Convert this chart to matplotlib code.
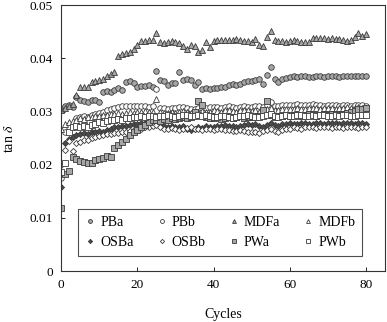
import matplotlib
matplotlib.use('Agg')
import matplotlib.pyplot as plt

plt.rcParams['font.family'] = ['Liberation Serif', 'DejaVu Serif']
plt.rcParams['mathtext.fontset'] = 'stix'

cycles = list(range(81))

PBa = [0.0305, 0.0310, 0.0313, 0.0308, 0.0328, 0.0322, 0.0320, 0.0317, 0.0321, 0.0321,
       0.0318, 0.0336, 0.0338, 0.0337, 0.0341, 0.0344, 0.0340, 0.0356, 0.0357, 0.0354,
       0.0347, 0.0348, 0.0348, 0.0349, 0.0347, 0.0376, 0.0360, 0.0357, 0.0350, 0.0353,
       0.0354, 0.0375, 0.0360, 0.0361, 0.0359, 0.0349, 0.0356, 0.0343, 0.0344, 0.0343,
       0.0345, 0.0344, 0.0346, 0.0347, 0.0350, 0.0351, 0.0349, 0.0352, 0.0355, 0.0357,
       0.0358, 0.0360, 0.0361, 0.0352, 0.0368, 0.0383, 0.0361, 0.0356, 0.0361, 0.0363,
       0.0364, 0.0366, 0.0365, 0.0366, 0.0367, 0.0365, 0.0364, 0.0366, 0.0366, 0.0365,
       0.0366, 0.0367, 0.0366, 0.0365, 0.0366, 0.0366, 0.0367, 0.0366, 0.0366, 0.0367, 0.0366]

PBb = [0.0175, 0.0262, 0.0270, 0.0275, 0.0288, 0.0290, 0.0292, 0.0290, 0.0293, 0.0295,
       0.0298, 0.0300, 0.0302, 0.0305, 0.0307, 0.0308, 0.0310, 0.0310, 0.0311, 0.0311,
       0.0310, 0.0311, 0.0310, 0.0309, 0.0311, 0.0342, 0.0307, 0.0306, 0.0305, 0.0307,
       0.0306, 0.0308, 0.0309, 0.0307, 0.0305, 0.0304, 0.0306, 0.0307, 0.0306, 0.0308,
       0.0309, 0.0308, 0.0307, 0.0309, 0.0310, 0.0308, 0.0307, 0.0309, 0.0310, 0.0309,
       0.0308, 0.0310, 0.0311, 0.0309, 0.0312, 0.0318, 0.0310, 0.0311, 0.0312, 0.0313,
       0.0312, 0.0313, 0.0314, 0.0313, 0.0312, 0.0313, 0.0314, 0.0313, 0.0312, 0.0311,
       0.0312, 0.0313, 0.0312, 0.0311, 0.0313, 0.0312, 0.0311, 0.0312, 0.0313, 0.0312, 0.0311]

MDFa = [0.0302, 0.0306, 0.0310, 0.0315, 0.0332, 0.0346, 0.0347, 0.0347, 0.0355, 0.0358,
        0.0360, 0.0362, 0.0367, 0.0370, 0.0374, 0.0404, 0.0408, 0.0410, 0.0412, 0.0417,
        0.0425, 0.0432, 0.0433, 0.0435, 0.0435, 0.0448, 0.0431, 0.0429, 0.0430, 0.0432,
        0.0430, 0.0429, 0.0424, 0.0418, 0.0425, 0.0423, 0.0411, 0.0416, 0.0430, 0.0421,
        0.0433, 0.0434, 0.0435, 0.0435, 0.0434, 0.0435, 0.0436, 0.0435, 0.0433, 0.0432,
        0.0430, 0.0436, 0.0425, 0.0424, 0.0441, 0.0451, 0.0434, 0.0433, 0.0432, 0.0431,
        0.0432, 0.0435, 0.0433, 0.0431, 0.0430, 0.0431, 0.0439, 0.0438, 0.0438, 0.0438,
        0.0437, 0.0438, 0.0437, 0.0436, 0.0435, 0.0433, 0.0434, 0.0440, 0.0448, 0.0442, 0.0446]

MDFb = [0.0268, 0.0276, 0.0280, 0.0283, 0.0285, 0.0287, 0.0286, 0.0289, 0.0290, 0.0291,
        0.0292, 0.0294, 0.0293, 0.0295, 0.0296, 0.0297, 0.0296, 0.0298, 0.0299, 0.0298,
        0.0300, 0.0299, 0.0301, 0.0300, 0.0299, 0.0323, 0.0300, 0.0298, 0.0297, 0.0299,
        0.0298, 0.0300, 0.0301, 0.0299, 0.0297, 0.0298, 0.0300, 0.0301, 0.0299, 0.0300,
        0.0302, 0.0301, 0.0300, 0.0302, 0.0303, 0.0301, 0.0300, 0.0302, 0.0303, 0.0302,
        0.0301, 0.0303, 0.0300, 0.0299, 0.0304, 0.0306, 0.0303, 0.0302, 0.0304, 0.0305,
        0.0304, 0.0305, 0.0306, 0.0305, 0.0304, 0.0306, 0.0307, 0.0306, 0.0305, 0.0306,
        0.0307, 0.0306, 0.0305, 0.0306, 0.0307, 0.0308, 0.0306, 0.0307, 0.0308, 0.0307, 0.0306]

OSBa = [0.0158, 0.0240, 0.0248, 0.0252, 0.0255, 0.0258, 0.0260, 0.0258, 0.0261, 0.0262,
        0.0263, 0.0262, 0.0265, 0.0267, 0.0270, 0.0271, 0.0272, 0.0273, 0.0274, 0.0276,
        0.0277, 0.0278, 0.0279, 0.0280, 0.0282, 0.0281, 0.0276, 0.0273, 0.0270, 0.0272,
        0.0270, 0.0271, 0.0273, 0.0268, 0.0265, 0.0268, 0.0271, 0.0269, 0.0272, 0.0270,
        0.0271, 0.0273, 0.0272, 0.0274, 0.0273, 0.0272, 0.0271, 0.0273, 0.0274, 0.0276,
        0.0275, 0.0277, 0.0273, 0.0271, 0.0274, 0.0278, 0.0275, 0.0273, 0.0276, 0.0277,
        0.0278, 0.0276, 0.0277, 0.0279, 0.0278, 0.0276, 0.0277, 0.0278, 0.0279, 0.0277,
        0.0278, 0.0279, 0.0278, 0.0277, 0.0278, 0.0279, 0.0278, 0.0277, 0.0279, 0.0278, 0.0277]

OSBb = [0.0200, 0.0228, 0.0245, 0.0225, 0.0240, 0.0243, 0.0246, 0.0247, 0.0250, 0.0252,
        0.0254, 0.0255, 0.0257, 0.0258, 0.0259, 0.0260, 0.0261, 0.0262, 0.0263, 0.0265,
        0.0266, 0.0268, 0.0270, 0.0271, 0.0272, 0.0274, 0.0270, 0.0268, 0.0267, 0.0269,
        0.0268, 0.0266, 0.0267, 0.0269, 0.0270, 0.0268, 0.0267, 0.0266, 0.0268, 0.0267,
        0.0266, 0.0268, 0.0267, 0.0265, 0.0266, 0.0264, 0.0263, 0.0265, 0.0264, 0.0262,
        0.0261, 0.0262, 0.0260, 0.0263, 0.0266, 0.0268, 0.0264, 0.0262, 0.0265, 0.0267,
        0.0268, 0.0270, 0.0269, 0.0268, 0.0270, 0.0271, 0.0270, 0.0269, 0.0270, 0.0271,
        0.0270, 0.0269, 0.0271, 0.0270, 0.0269, 0.0270, 0.0271, 0.0270, 0.0269, 0.0270, 0.0271]

PWa = [0.0119, 0.0183, 0.0189, 0.0215, 0.0210, 0.0207, 0.0205, 0.0203, 0.0204, 0.0208,
       0.0210, 0.0212, 0.0216, 0.0214, 0.0232, 0.0238, 0.0243, 0.0248, 0.0255, 0.0262,
       0.0266, 0.0270, 0.0275, 0.0280, 0.0284, 0.0285, 0.0283, 0.0286, 0.0284, 0.0288,
       0.0286, 0.0287, 0.0289, 0.0287, 0.0290, 0.0300, 0.0319, 0.0313, 0.0290, 0.0288,
       0.0287, 0.0289, 0.0286, 0.0288, 0.0290, 0.0287, 0.0289, 0.0291, 0.0288, 0.0290,
       0.0289, 0.0291, 0.0292, 0.0303, 0.0320, 0.0293, 0.0290, 0.0292, 0.0291, 0.0293,
       0.0292, 0.0294, 0.0293, 0.0291, 0.0293, 0.0295, 0.0294, 0.0292, 0.0294, 0.0295,
       0.0293, 0.0295, 0.0296, 0.0294, 0.0296, 0.0297, 0.0299, 0.0301, 0.0304, 0.0305, 0.0306]

PWb = [0.0187, 0.0204, 0.0262, 0.0270, 0.0272, 0.0270, 0.0273, 0.0271, 0.0275, 0.0277,
       0.0280, 0.0279, 0.0282, 0.0284, 0.0285, 0.0286, 0.0285, 0.0287, 0.0288, 0.0290,
       0.0289, 0.0291, 0.0290, 0.0292, 0.0291, 0.0290, 0.0292, 0.0291, 0.0293, 0.0292,
       0.0290, 0.0291, 0.0293, 0.0294, 0.0292, 0.0291, 0.0293, 0.0292, 0.0294, 0.0291,
       0.0289, 0.0290, 0.0292, 0.0291, 0.0289, 0.0287, 0.0290, 0.0292, 0.0291, 0.0293,
       0.0292, 0.0290, 0.0289, 0.0291, 0.0293, 0.0296, 0.0292, 0.0290, 0.0291, 0.0293,
       0.0292, 0.0291, 0.0293, 0.0294, 0.0292, 0.0291, 0.0293, 0.0292, 0.0294, 0.0293,
       0.0292, 0.0291, 0.0293, 0.0292, 0.0294, 0.0293, 0.0292, 0.0291, 0.0293, 0.0294, 0.0293]

gray = '#a6a6a6'
edge = '#3a3a3a'

# name, values, marker, face colour
series = [
    ('PBa', PBa, 'o', gray),
    ('PBb', PBb, 'o', 'white'),
    ('MDFa', MDFa, '^', gray),
    ('MDFb', MDFb, '^', 'white'),
    ('OSBa', OSBa, 'D', '#4a4a4a'),
    ('OSBb', OSBb, 'D', 'white'),
    ('PWa', PWa, 's', gray),
    ('PWb', PWb, 's', 'white'),
]

fig = plt.figure(figsize=(3.87, 3.22), dpi=100)
ax = fig.add_axes([0.158, 0.158, 0.837, 0.826])

handles = {}
for name, vals, mk, fc in series:
    ms = 4.0 if mk != 'D' else 3.1
    h, = ax.plot(cycles, vals, linestyle='none', marker=mk, markersize=ms,
                 markerfacecolor=fc, markeredgecolor=edge, markeredgewidth=0.6,
                 label=name)
    handles[name] = h

ax.set_xlim(0, 85)
ax.set_ylim(0, 0.05)
ax.set_xticks([0, 20, 40, 60, 80])
ax.set_yticks([0, 0.01, 0.02, 0.03, 0.04, 0.05])
ax.set_yticklabels(['0', '0.01', '0.02', '0.03', '0.04', '0.05'])
ax.tick_params(direction='in', length=3, width=0.6, labelsize=9.5, pad=6)
for s in ax.spines.values():
    s.set_linewidth(0.8)
    s.set_color('#333333')

ax.set_xlabel('Cycles', fontsize=10, labelpad=12)
ax.set_ylabel('tan $\\delta$', fontsize=10, labelpad=10)

order = ['PBa', 'OSBa', 'PBb', 'OSBb', 'MDFa', 'PWa', 'MDFb', 'PWb']
leg = ax.legend([handles[n] for n in order], order, ncol=4, loc='lower left',
                bbox_to_anchor=(0.052, 0.056, 0.877, 0.158), mode='expand',
                fancybox=False, edgecolor='#222222', fontsize=10, markerscale=0.7,
                handlelength=0.8, handletextpad=0.3, borderaxespad=0,
                columnspacing=0.5, labelspacing=0.5, borderpad=0.5)
leg.get_frame().set_linewidth(0.8)

fig.savefig('out.png', dpi=100)
